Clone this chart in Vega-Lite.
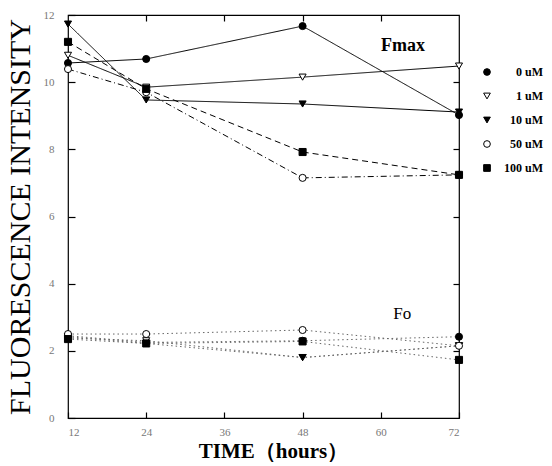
{
  "$schema": "https://vega.github.io/schema/vega-lite/v6.json",
  "width": 391,
  "height": 403,
  "autosize": "none",
  "padding": {"left": 68, "top": 15, "right": 93, "bottom": 48},
  "background": "white",
  "config": {
    "view": {"stroke": "black", "strokeWidth": 1.2},
    "font": "Liberation Serif",
    "axis": {"grid": false, "domain": false, "ticks": true, "tickOpacity": 1, "tickColor": "black", "tickWidth": 1.2, "labelColor": "#777", "labelFontSize": 11, "labelFont": "Liberation Serif", "titleFont": "Liberation Serif", "titleColor": "black", "zindex": 2}
  },
  "resolve": {"axis": {"x": "independent", "y": "independent"}},
  "datasets": {
    "obs": [
      {"measure": "Fmax", "conc": "0 uM", "time": 12, "value": 10.57},
      {"measure": "Fmax", "conc": "0 uM", "time": 24, "value": 10.69},
      {"measure": "Fmax", "conc": "0 uM", "time": 48, "value": 11.67},
      {"measure": "Fmax", "conc": "0 uM", "time": 72, "value": 9.02},
      {"measure": "Fmax", "conc": "1 uM", "time": 12, "value": 10.8},
      {"measure": "Fmax", "conc": "1 uM", "time": 24, "value": 9.85},
      {"measure": "Fmax", "conc": "1 uM", "time": 48, "value": 10.15},
      {"measure": "Fmax", "conc": "1 uM", "time": 72, "value": 10.48},
      {"measure": "Fmax", "conc": "10 uM", "time": 12, "value": 11.73},
      {"measure": "Fmax", "conc": "10 uM", "time": 24, "value": 9.47},
      {"measure": "Fmax", "conc": "10 uM", "time": 48, "value": 9.35},
      {"measure": "Fmax", "conc": "10 uM", "time": 72, "value": 9.11},
      {"measure": "Fmax", "conc": "50 uM", "time": 12, "value": 10.39},
      {"measure": "Fmax", "conc": "50 uM", "time": 24, "value": 9.7},
      {"measure": "Fmax", "conc": "50 uM", "time": 48, "value": 7.15},
      {"measure": "Fmax", "conc": "50 uM", "time": 72, "value": 7.24},
      {"measure": "Fmax", "conc": "100 uM", "time": 12, "value": 11.2},
      {"measure": "Fmax", "conc": "100 uM", "time": 24, "value": 9.8},
      {"measure": "Fmax", "conc": "100 uM", "time": 48, "value": 7.92},
      {"measure": "Fmax", "conc": "100 uM", "time": 72, "value": 7.24},
      {"measure": "Fo", "conc": "0 uM", "time": 12, "value": 2.45},
      {"measure": "Fo", "conc": "0 uM", "time": 24, "value": 2.25},
      {"measure": "Fo", "conc": "0 uM", "time": 48, "value": 2.3},
      {"measure": "Fo", "conc": "0 uM", "time": 72, "value": 2.42},
      {"measure": "Fo", "conc": "1 uM", "time": 12, "value": 2.38},
      {"measure": "Fo", "conc": "1 uM", "time": 24, "value": 2.3},
      {"measure": "Fo", "conc": "1 uM", "time": 48, "value": 1.8},
      {"measure": "Fo", "conc": "1 uM", "time": 72, "value": 2.15},
      {"measure": "Fo", "conc": "10 uM", "time": 12, "value": 2.42},
      {"measure": "Fo", "conc": "10 uM", "time": 24, "value": 2.22},
      {"measure": "Fo", "conc": "10 uM", "time": 48, "value": 1.8},
      {"measure": "Fo", "conc": "10 uM", "time": 72, "value": 2.15},
      {"measure": "Fo", "conc": "50 uM", "time": 12, "value": 2.5},
      {"measure": "Fo", "conc": "50 uM", "time": 24, "value": 2.5},
      {"measure": "Fo", "conc": "50 uM", "time": 48, "value": 2.62},
      {"measure": "Fo", "conc": "50 uM", "time": 72, "value": 2.15},
      {"measure": "Fo", "conc": "100 uM", "time": 12, "value": 2.35},
      {"measure": "Fo", "conc": "100 uM", "time": 24, "value": 2.22},
      {"measure": "Fo", "conc": "100 uM", "time": 48, "value": 2.28},
      {"measure": "Fo", "conc": "100 uM", "time": 72, "value": 1.73}
    ],
    "notes": [
      {"time": 63.4, "value": 11.08, "label": "Fmax"},
      {"time": 63.3, "value": 3.1, "label": "Fo"}
    ]
  },
  "layer": [
    {
      "data": {"name": "obs"},
      "transform": [{"filter": "datum.measure === 'Fmax'"}],
      "mark": {"type": "line", "color": "black", "strokeWidth": 1},
      "encoding": {
        "x": {"field": "time", "type": "quantitative", "scale": {"domain": [12, 72], "nice": false, "zero": false},
          "axis": {"orient": "bottom", "values": [12, 24, 36, 48, 60, 72], "ticks": true, "tickSize": -6, "labelPadding": 14, "title": "TIME（hours）", "titleFontSize": 21, "titleFontWeight": "bold", "titleX": 205, "titleY": 39, "titleAlign": "center", "titleBaseline": "alphabetic"}},
        "y": {"field": "value", "type": "quantitative", "scale": {"domain": [0, 12], "nice": false},
          "axis": {"orient": "left", "values": [0, 2, 4, 6, 8, 10, 12], "ticks": true, "tickSize": -7, "labelPadding": 21, "title": "FLUORESCENCE INTENSITY", "titleFontSize": 30, "titleFontWeight": "normal", "titleX": -48, "titleY": 201.5, "titleAngle": -90, "titleAlign": "center", "titleBaseline": "middle"}},
        "detail": {"field": "conc"},
        "strokeDash": {"field": "conc", "type": "nominal", "scale": {"range": [[1, 0], [1, 0], [1, 0], [6, 4], [6, 3, 1, 3]]}, "legend": null}
      }
    },
    {
      "data": {"name": "obs"},
      "transform": [{"filter": "datum.measure === 'Fo'"}],
      "mark": {"type": "line", "color": "#666", "strokeWidth": 1, "strokeDash": [1.5, 3]},
      "encoding": {
        "x": {"field": "time", "type": "quantitative", "axis": null},
        "y": {"field": "value", "type": "quantitative", "axis": null},
        "detail": {"field": "conc"}
      }
    },
    {
      "data": {"name": "obs"},
      "mark": {"type": "point", "filled": true, "strokeWidth": 1, "size": 50, "opacity": 1},
      "encoding": {
        "x": {"field": "time", "type": "quantitative", "axis": null},
        "y": {"field": "value", "type": "quantitative", "axis": null},
        "shape": {"field": "conc", "type": "nominal", "scale": {"domain": ["0 uM", "1 uM", "10 uM", "50 uM", "100 uM"], "range": ["circle", "triangle-down", "triangle-down", "circle", "square"]},
          "legend": {"orient": "none", "legendX": 413, "legendY": 51, "title": null, "labelFont": "Liberation Serif", "labelFontSize": 12, "labelFontWeight": "bold", "labelColor": "black", "labelAlign": "right", "symbolStrokeWidth": 1, "symbolSize": 45, "rowPadding": 12, "labelOffset": 50}},
        "fill": {"field": "conc", "type": "nominal", "scale": {"domain": ["0 uM", "1 uM", "10 uM", "50 uM", "100 uM"], "range": ["black", "white", "black", "white", "black"]},
          "legend": {"orient": "none", "legendX": 413, "legendY": 51, "title": null, "labelFont": "Liberation Serif", "labelFontSize": 12, "labelFontWeight": "bold", "labelColor": "black", "labelAlign": "right", "symbolStrokeWidth": 1, "symbolSize": 45, "rowPadding": 12, "labelOffset": 50}},
        "stroke": {"field": "conc", "type": "nominal", "scale": {"domain": ["0 uM", "1 uM", "10 uM", "50 uM", "100 uM"], "range": ["black", "black", "black", "black", "black"]},
          "legend": {"orient": "none", "legendX": 413, "legendY": 51, "title": null, "labelFont": "Liberation Serif", "labelFontSize": 12, "labelFontWeight": "bold", "labelColor": "black", "labelAlign": "right", "symbolStrokeWidth": 1, "symbolSize": 45, "rowPadding": 12, "labelOffset": 50}}
      }
    },
    {
      "data": {"name": "notes"},
      "transform": [{"filter": "datum.label === 'Fmax'"}],
      "mark": {"type": "text", "font": "Liberation Serif", "fontSize": 18, "fontWeight": "bold", "color": "black", "align": "center", "baseline": "middle"},
      "encoding": {
        "x": {"field": "time", "type": "quantitative", "axis": {"orient": "top", "values": [24, 36, 48, 60], "ticks": true, "tickSize": -6, "labels": false, "title": null}},
        "y": {"field": "value", "type": "quantitative", "axis": {"orient": "right", "values": [2, 4, 6, 8, 10], "ticks": true, "tickSize": -6, "labels": false, "title": null}},
        "text": {"field": "label"}
      }
    },
    {
      "data": {"name": "notes"},
      "transform": [{"filter": "datum.label === 'Fo'"}],
      "mark": {"type": "text", "font": "Liberation Serif", "fontSize": 17, "fontWeight": "normal", "color": "black", "align": "center", "baseline": "middle"},
      "encoding": {
        "x": {"field": "time", "type": "quantitative", "axis": null},
        "y": {"field": "value", "type": "quantitative", "axis": null},
        "text": {"field": "label"}
      }
    }
  ]
}
